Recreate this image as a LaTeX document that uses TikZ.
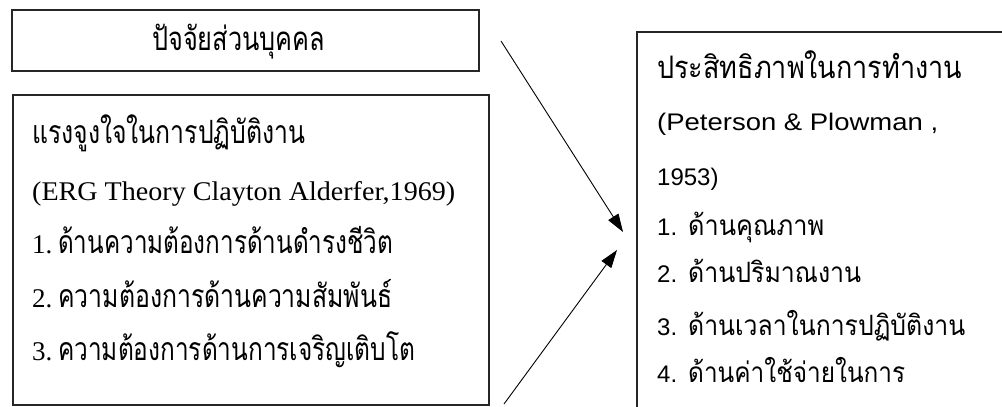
\documentclass[tikz,border=0pt]{standalone}
\usepackage{fontspec}
\usepackage{graphicx}
\setmainfont{Liberation Serif}
\newfontfamily\thai[Script=Thai]{Loma}
\newfontfamily\arial{Liberation Sans}
\usetikzlibrary{arrows.meta}
\newcommand{\fw}[2]{\resizebox{#1}{\height}{#2}}
\newcommand{\thL}{\thai\fontsize{32}{36}\selectfont}
\newcommand{\thR}{\thai\fontsize{28}{32}\selectfont}
\begin{document}
\begin{tikzpicture}[x=1pt,y=-1pt,
  box/.style={draw=black!85,line width=1.2pt,rectangle,inner sep=0pt},
  ltxt/.style={anchor=base west,inner sep=0pt,font=\fontsize{27}{30}\selectfont},
  rtxt/.style={anchor=base west,inner sep=0pt,font=\arial\fontsize{24}{28}\selectfont},
  conn/.style={line width=0.9pt,-{Triangle[length=18pt,width=12pt]}}]
\useasboundingbox (0,0) rectangle (1002,407);
\clip (0,0) rectangle (1002,407);
% boxes
\node[box,minimum width=467pt,minimum height=61pt] (top) at (245.5,40.5) {};
\node[box,minimum width=476pt,minimum height=310pt] (left) at (251,250) {};
\node[box,minimum width=373pt,minimum height=388pt] (right) at (823.5,226) {};
% top box text
\node[ltxt] (t0) at (152,50) {\fw{173pt}{\thai\fontsize{33}{36}\selectfont ปัจจัยส่วนบุคคล}};
% left box text
\node[ltxt] (l0) at (32,143) {\fw{273pt}{\thL แรงจูงใจในการปฏิบัติงาน}};
\node[ltxt] (l1) at (32,200) {\fw{423pt}{(ERG Theory Clayton Alderfer,1969)}};
\node[ltxt] (l2) at (32,253) {\makebox[26pt][l]{1.}\fw{335pt}{\thL ด้านความต้องการด้านดำรงชีวิต}};
\node[ltxt] (l3) at (32,307) {\makebox[26pt][l]{2.}\fw{334pt}{\thL ความต้องการด้านความสัมพันธ์}};
\node[ltxt] (l4) at (32,360) {\makebox[26pt][l]{3.}\fw{357pt}{\thL ความต้องการด้านการเจริญเติบโต}};
% right box text
\node[rtxt] (r0) at (657,78) {\fw{305pt}{\thai\fontsize{31}{34}\selectfont ประสิทธิภาพในการทำงาน}};
\node[rtxt] (r1) at (657,130) {\fw{281pt}{(Peterson \& Plowman ,}};
\node[rtxt] (r2) at (657,185) {1953)};
\node[rtxt] (r3) at (657,235) {\makebox[31pt][l]{1.}\fw{136pt}{\thR ด้านคุณภาพ}};
\node[rtxt] (r4) at (657,282) {\makebox[31pt][l]{2.}\fw{173pt}{\thR ด้านปริมาณงาน}};
\node[rtxt] (r5) at (657,335) {\makebox[31pt][l]{3.}\fw{277pt}{\thR ด้านเวลาในการปฏิบัติงาน}};
\node[rtxt] (r6) at (657,382) {\makebox[31pt][l]{4.}\fw{217pt}{\thR ด้านค่าใช้จ่ายในการ}};
% connectors
\coordinate (a1s) at (501,41);
\coordinate (a1e) at (623,232);
\coordinate (a2s) at (504,404);
\coordinate (a2e) at (617,250);
\draw[conn] (a1s) -- (a1e);
\draw[conn] (a2s) -- (a2e);
\end{tikzpicture}
\end{document}
